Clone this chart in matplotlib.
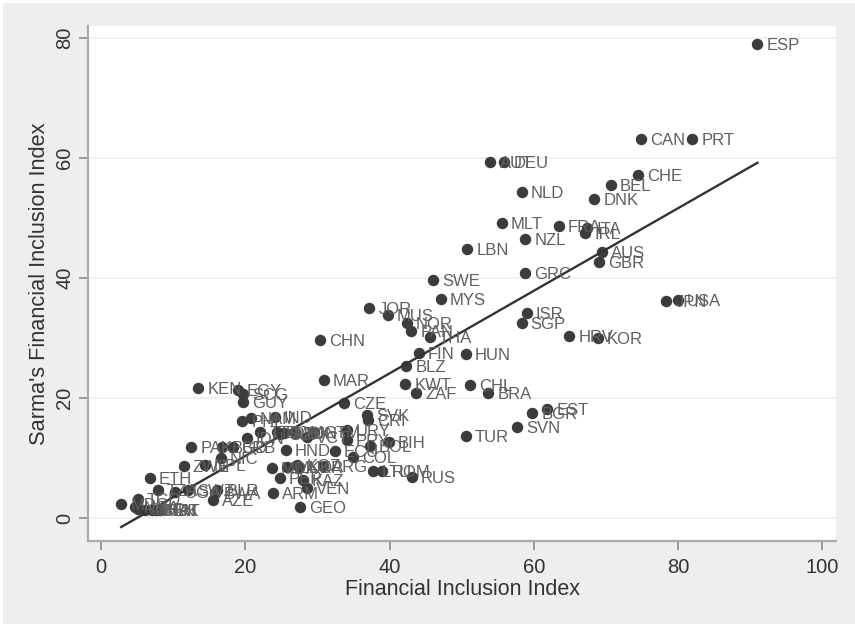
import matplotlib
matplotlib.use('Agg')
import matplotlib.pyplot as plt
from matplotlib.patches import Rectangle

plt.rcParams['font.family'] = ['Liberation Sans', 'DejaVu Sans']

codes = ['ESP', 'CAN', 'PRT', 'AUT', 'DEU', 'CHE', 'BEL', 'NLD', 'DNK', 'MLT',
         'FRA', 'ITA', 'IRL', 'NZL', 'LBN', 'AUS', 'GBR', 'GRC', 'SWE', 'MYS',
         'JPN', 'USA', 'JOR', 'MUS', 'NOR', 'PAN', 'THA', 'ISR', 'SGP', 'HRV',
         'KOR', 'CHN', 'FIN', 'HUN', 'BLZ', 'MAR', 'KWT', 'CHL', 'ZAF', 'BRA',
         'KEN', 'EGY', 'SCG', 'GUY', 'CZE', 'SVK', 'CRI', 'EST', 'BGR', 'SVN',
         'TUR', 'BIH', 'URY', 'PRY', 'HND', 'ECU', 'BOL', 'COL', 'LTU', 'ROM',
         'RUS', 'GEO', 'VEN', 'KAZ', 'PER', 'ARM', 'PAK', 'ZWE', 'NPL', 'BGD',
         'BRB', 'NIC', 'MDA', 'MKD', 'KGZ', 'UKR', 'ARG', 'ETH', 'BLR', 'BWA',
         'AZE', 'TZA', 'UGA', 'SWZ', 'MDG', 'TCD', 'NGA', 'CMR', 'GHA', 'BEN',
         'PHL', 'NAM', 'IND', 'IDN', 'TTO', 'DOM', 'SLV', 'MEX', 'TUN', 'VCT',
         'GTM', 'TJK', 'MRT']
fii = [91.0, 74.9, 82.0, 54.0, 55.9, 74.5, 70.7, 58.3, 68.4, 55.6,
       63.5, 67.4, 67.1, 58.8, 50.8, 69.5, 69.1, 58.8, 46.0, 47.1,
       78.4, 80.0, 37.2, 39.8, 42.4, 43.0, 45.6, 59.0, 58.3, 64.9,
       68.9, 30.4, 44.1, 50.6, 42.3, 30.9, 42.2, 51.2, 43.7, 53.7,
       13.5, 19.0, 19.7, 19.7, 33.7, 36.9, 37.0, 61.9, 59.8, 57.7,
       50.6, 39.9, 34.1, 34.1, 25.6, 32.4, 37.3, 35.0, 37.7, 39.0,
       43.1, 27.6, 28.6, 28.0, 24.8, 23.9, 12.5, 11.5, 14.4, 16.8,
       18.3, 16.6, 23.7, 25.8, 27.2, 27.5, 30.8, 6.8, 16.1, 15.8,
       15.5, 7.9, 10.3, 12.1, 2.8, 5.1, 4.7, 5.1, 6.1, 7.1,
       19.6, 20.8, 24.1, 20.2, 22.1, 24.4, 24.8, 25.4, 26.9, 28.6,
       29.5, 8.2, 7.6]
sarma = [79.0, 63.2, 63.2, 59.3, 59.3, 57.2, 55.5, 54.3, 53.2, 49.2,
         48.7, 48.3, 47.5, 46.5, 44.8, 44.3, 42.7, 40.8, 39.7, 36.5,
         36.2, 36.3, 35.0, 33.8, 32.5, 31.2, 30.2, 34.2, 32.5, 30.3,
         30.0, 29.7, 27.5, 27.3, 25.3, 23.0, 22.3, 22.2, 20.8, 20.8,
         21.7, 21.3, 20.7, 19.3, 19.2, 17.2, 16.3, 18.2, 17.5, 15.2,
         13.7, 12.7, 14.7, 13.0, 11.3, 11.2, 12.0, 10.2, 7.8, 7.8,
         6.8, 1.8, 5.0, 6.3, 6.7, 4.2, 11.8, 8.7, 8.8, 11.8,
         11.8, 10.0, 8.3, 8.5, 8.8, 8.5, 8.7, 6.7, 4.7, 4.2,
         3.0, 4.7, 4.3, 4.7, 2.3, 3.2, 1.8, 1.5, 1.3, 1.3,
         16.2, 16.7, 16.8, 13.3, 14.3, 14.3, 14.0, 14.2, 14.2, 13.5,
         14.3, 1.3, 1.3]

fit_x = [2.8, 91.0]
fit_y = [-1.5, 59.2]
x_ticks = [0, 20, 40, 60, 80, 100]
y_ticks = [0, 20, 40, 60, 80]

fig = plt.figure(figsize=(8.55, 6.24), dpi=100, facecolor='white')
fig.patches.append(Rectangle((3 / 855, 0), 852 / 855, 621 / 624, transform=fig.transFigure,
                             facecolor='#eeeeee', edgecolor='none', zorder=-10))
ax = fig.add_axes([88 / 855, 1 - 541 / 624, 748 / 855, 515 / 624])
ax.set_facecolor('white')
ax.set_xlim(-1.8, 101.9)
ax.set_ylim(-3.83, 82)

ax.scatter(fii, sarma, s=68, color='#3c3c3c', linewidths=0, zorder=3)
ax.plot(fit_x, fit_y, color='#333333', lw=1.7, zorder=4)
for code, x, y in zip(codes, fii, sarma):
    ax.annotate(code, (x, y), xytext=(6.5, -1), textcoords='offset points',
                va='center', ha='left', fontsize=12, color='#5f5f5f', zorder=5)

ax.set_xticks(x_ticks)
ax.set_yticks(y_ticks)
ax.grid(axis='y', color='#f1f1f1', lw=1.5)
ax.set_axisbelow(True)
ax.spines['top'].set_visible(False)
ax.spines['right'].set_visible(False)
ax.spines['left'].set_color('#aaaaaa')
ax.spines['bottom'].set_color('#aaaaaa')
ax.spines['left'].set_linewidth(1.6)
ax.spines['bottom'].set_linewidth(1.6)
ax.tick_params(length=6.5, width=1.2, color='#888888', labelcolor='#333333', labelsize=14.5)
ax.tick_params(axis='x', pad=6)
plt.setp(ax.get_yticklabels(), rotation=90, va='center')
ax.set_xlabel('Financial Inclusion Index', fontsize=15.5, color='#333333', labelpad=1)
ax.set_ylabel("Sarma's Financial Inclusion Index", fontsize=15.7, color='#333333', labelpad=4)

fig.savefig('out.png', dpi=100, facecolor=fig.get_facecolor())
